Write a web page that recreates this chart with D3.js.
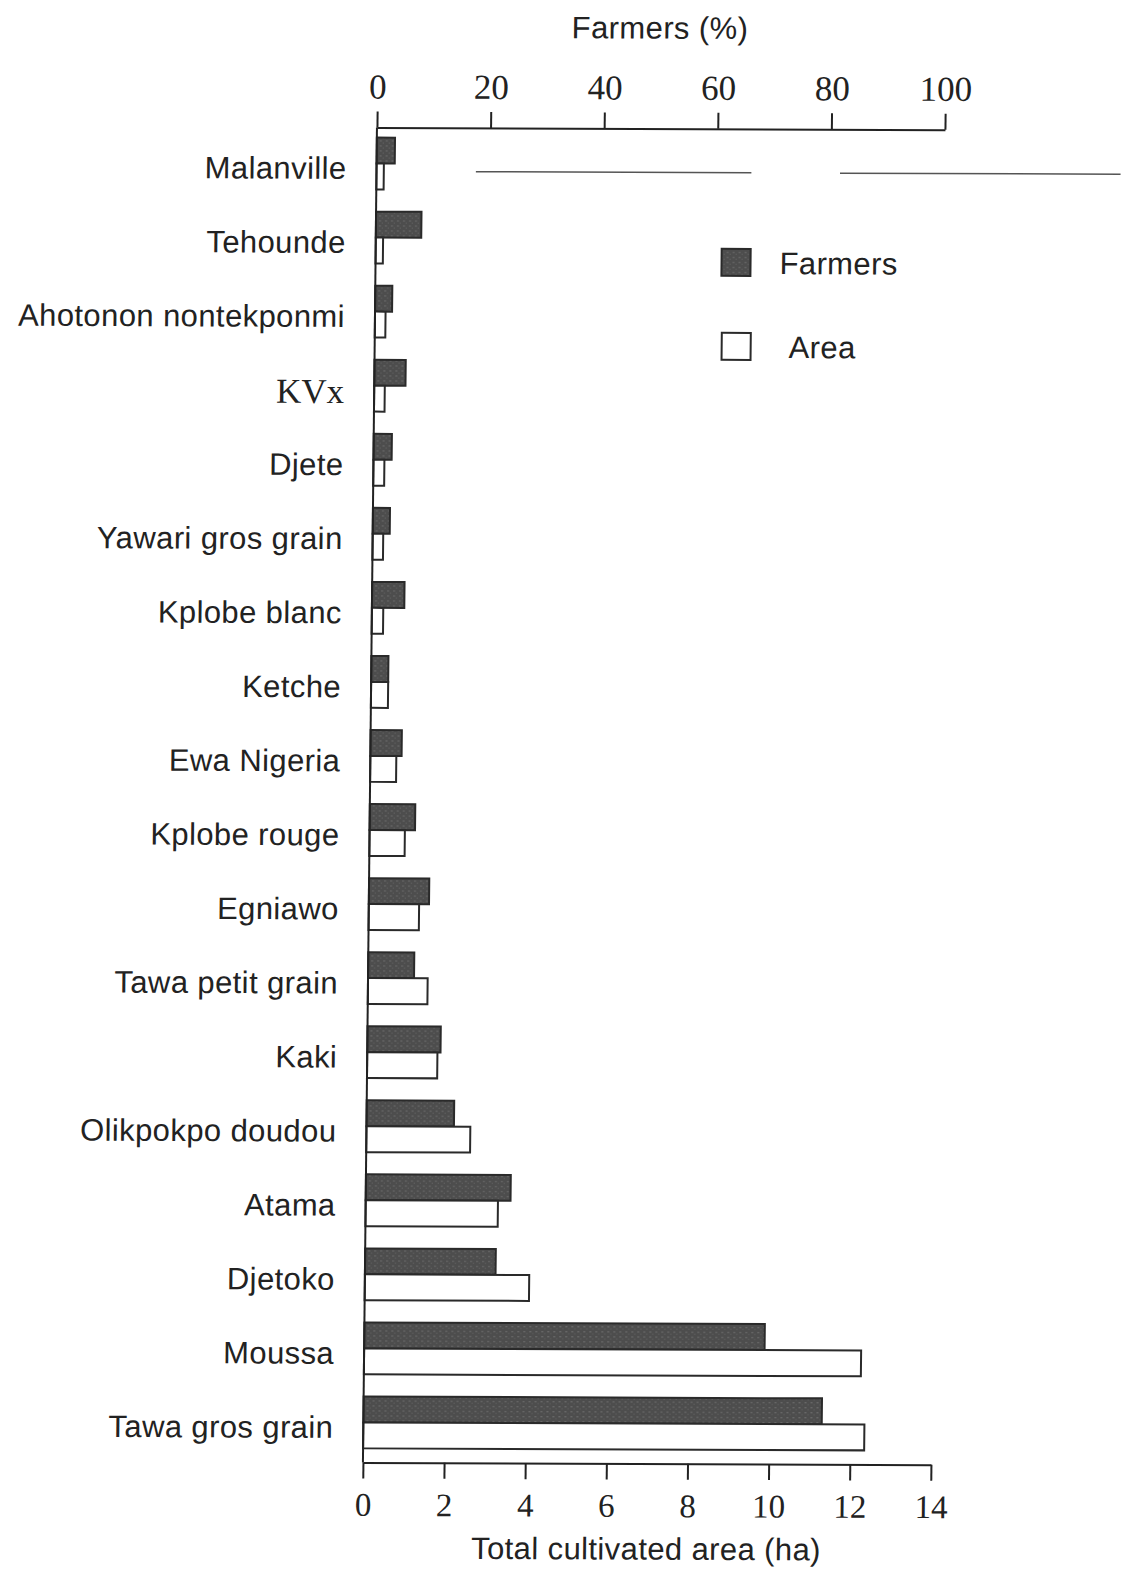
<!DOCTYPE html>
<meta charset="utf-8">
<style>
body { margin: 0; background: #fff; }
.lbl { font-family: "Liberation Sans", Arial, sans-serif; font-size: 31px; letter-spacing: 0.4px; fill: #222; }
.axis path, .axis line { stroke: #222; stroke-width: 2; fill: none; }
.axis text { font-family: "Liberation Serif", "Times New Roman", serif; fill: #222; }
</style>
<body>
<script src="https://d3js.org/d3.v7.min.js"></script>
<script>

var categories = ["Malanville", "Tehounde", "Ahotonon nontekponmi", "KVx", "Djete",
  "Yawari gros grain", "Kplobe blanc", "Ketche", "Ewa Nigeria", "Kplobe rouge",
  "Egniawo", "Tawa petit grain", "Kaki", "Olikpokpo doudou", "Atama", "Djetoko",
  "Moussa", "Tawa gros grain"];
var farmersPct = [3.2, 8, 3, 5.5, 3.2, 3, 5.7, 3, 5.5, 8, 10.6, 8.1, 12.9, 15.4, 25.5, 23, 70.5, 80.7];
var areaHa = [0.18, 0.18, 0.26, 0.26, 0.27, 0.26, 0.28, 0.42, 0.64, 0.87, 1.24, 1.47, 1.73, 2.56, 3.26, 4.05, 12.25, 12.35];
var pctTicks = [0, 20, 40, 60, 80, 100];
var haTicks = [0, 2, 4, 6, 8, 10, 12, 14];

var width = 1126, height = 1574;
var x0 = 370, plotW = 568, topY = 128, botY = 1463;

var svg = d3.select("body").append("svg")
    .attr("width", width)
    .attr("height", height);

// grainy dark fill, like the scanned print
var pat = svg.append("defs").append("pattern")
    .attr("id", "grain")
    .attr("patternUnits", "userSpaceOnUse")
    .attr("width", 6).attr("height", 5);
pat.append("rect").attr("width", 6).attr("height", 5).attr("fill", "#4d4d4d");
pat.append("rect").attr("x", 1).attr("y", 1).attr("width", 2).attr("height", 1).attr("fill", "#6e6e6e");
pat.append("rect").attr("x", 4).attr("y", 3).attr("width", 1).attr("height", 1).attr("fill", "#666");

// the scan is slightly skewed
var g = svg.append("g")
    .attr("transform", "matrix(1,0.004,-0.0105,1,8.3,-2)");

var xPct = d3.scaleLinear().domain([0, 100]).range([x0, x0 + plotW]);
var xHa = d3.scaleLinear().domain([0, 14]).range([x0, x0 + plotW]);
var y = d3.scaleBand()
    .domain(categories)
    .range([127, 1460])
    .paddingInner(0.3)
    .paddingOuter(0.15);
var bw = y.bandwidth();

var rows = categories.map(function(c, i) {
  return {name: c, farmers: farmersPct[i], area: areaHa[i]};
});

// stray printed lines near the top row
g.selectAll(".stray")
    .data([[17.5, 66], [81.6, 131]])
  .enter().append("line")
    .attr("x1", function(d) { return xPct(d[0]); })
    .attr("x2", function(d) { return xPct(d[1]); })
    .attr("y1", y(categories[0]) + bw * 0.65)
    .attr("y2", y(categories[0]) + bw * 0.65)
    .attr("stroke", "#555")
    .attr("stroke-width", 1.5);

g.selectAll(".farm")
    .data(rows)
  .enter().append("rect")
    .attr("class", "farm")
    .attr("x", x0)
    .attr("y", function(d) { return y(d.name); })
    .attr("width", function(d) { return xPct(d.farmers) - x0; })
    .attr("height", bw / 2)
    .attr("fill", "url(#grain)")
    .attr("stroke", "#2a2a2a")
    .attr("stroke-width", 2);

g.selectAll(".area")
    .data(rows)
  .enter().append("rect")
    .attr("class", "area")
    .attr("x", x0)
    .attr("y", function(d) { return y(d.name) + bw / 2; })
    .attr("width", function(d) { return xHa(d.area) - x0; })
    .attr("height", bw / 2)
    .attr("fill", "#fff")
    .attr("stroke", "#2a2a2a")
    .attr("stroke-width", 2);

// axes
var topAxis = g.append("g")
    .attr("class", "axis")
    .attr("transform", "translate(0," + topY + ")")
    .call(d3.axisTop(xPct).tickValues(pctTicks).tickSize(16).tickPadding(13).tickSizeOuter(0));
topAxis.selectAll("text").style("font-size", "35px");

var bottomAxis = g.append("g")
    .attr("class", "axis")
    .attr("transform", "translate(0," + botY + ")")
    .call(d3.axisBottom(xHa).tickValues(haTicks).tickSize(16).tickPadding(14).tickSizeOuter(0));
bottomAxis.selectAll("text").style("font-size", "33px");

g.append("line")
    .attr("x1", x0).attr("x2", x0)
    .attr("y1", topY).attr("y2", botY)
    .attr("stroke", "#222")
    .attr("stroke-width", 2);

// category labels
g.selectAll(".cat")
    .data(categories)
  .enter().append("text")
    .attr("class", "lbl")
    .attr("x", x0 - 30)
    .attr("y", function(d) { return y(d) + bw / 2; })
    .attr("dy", "0.5em")
    .attr("text-anchor", "end")
    .style("font-family", function(d) { return d == "KVx" ? "'Liberation Serif', serif" : null; })
    .style("font-size", function(d) { return d == "KVx" ? "35px" : null; })
    .style("letter-spacing", function(d) { return d == "KVx" ? "0px" : null; })
    .text(function(d) { return d; });

// axis titles
g.append("text")
    .attr("class", "lbl")
    .attr("x", x0 + plotW / 2 - 2)
    .attr("y", 38)
    .attr("text-anchor", "middle")
    .text("Farmers (%)");

g.append("text")
    .attr("class", "lbl")
    .attr("x", x0 + plotW / 2)
    .attr("y", 1559)
    .attr("text-anchor", "middle")
    .text("Total cultivated area (ha)");

// legend
var legend = [
  {label: "Farmers", fill: "url(#grain)", x: 716, y: 248, tx: 774},
  {label: "Area", fill: "#fff", x: 717, y: 332, tx: 784}
];
legend.forEach(function(l) {
  g.append("rect")
      .attr("x", l.x).attr("y", l.y)
      .attr("width", 29).attr("height", 27)
      .attr("fill", l.fill)
      .attr("stroke", "#2a2a2a")
      .attr("stroke-width", 2);
  g.append("text")
      .attr("class", "lbl")
      .attr("x", l.tx)
      .attr("y", l.y + 25)
      .text(l.label);
});

</script>
